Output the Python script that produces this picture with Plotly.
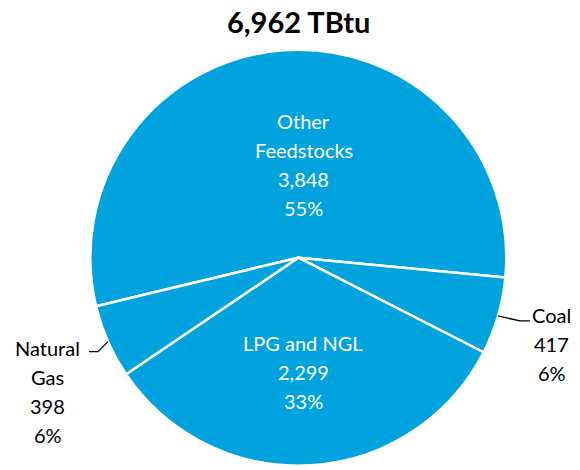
import math
import plotly.graph_objects as go

# ---- data ----
categories = ["Other Feedstocks", "Coal", "LPG and NGL", "Natural Gas"]
label_lines = [["Other", "Feedstocks"], ["Coal"], ["LPG and NGL"], ["Natural", "Gas"]]
values = [3848, 417, 2299, 398]
unit = "TBtu"

total = sum(values)
pcts = [round(v / total * 100) for v in values]

W, H = 580, 470
FONT = "Lato"
FS = 20
LINE = 29
BLUE = "#00A3DD"
rotation = 256.5

# pie geometry (pixels)
cx, cy, R = 298.3, 257.7, 208
dom_x = [(cx - R) / W, (cx + R) / W]
dom_y = [1 - (cy + R) / H, 1 - (cy - R) / H]

# label placement style: inside radius fraction + horizontal nudge, or outside leader
label_style = [("in", 0.45, 12), ("out", None, 0), ("in", 0.55, -2), ("out", None, 0)]

fig = go.Figure(go.Pie(
    labels=categories,
    values=values,
    textinfo="none",
    sort=False,
    direction="clockwise",
    rotation=rotation,
    marker=dict(colors=[BLUE] * len(values), line=dict(color="white", width=2.5)),
    domain=dict(x=dom_x, y=dom_y),
    showlegend=False,
    hoverinfo="label+value+percent",
))


def px(x):
    return x / W


def py(y):
    return 1 - y / H


shapes = []
annotations = []


def add_block(lines, x0, y0, color):
    # y0: center of first line (pixels)
    for k, t in enumerate(lines):
        annotations.append(dict(x=px(x0), y=py(y0 + k * LINE), xref="paper", yref="paper",
                                text=t, showarrow=False, xanchor="center", yanchor="middle",
                                font=dict(family=FONT, size=FS, color=color)))


angle = rotation
for i, v in enumerate(values):
    span = v / total * 360
    mid = angle + span / 2
    angle += span
    a = math.radians(mid)
    lines = label_lines[i] + [f"{v:,}", f"{pcts[i]}%"]
    kind, frac, dx = label_style[i]
    if kind == "in":
        bx, by = cx + frac * R * math.sin(a) + dx, cy - frac * R * math.cos(a)
        add_block(lines, bx, by - (len(lines) - 1) * LINE / 2, "white")
    else:
        ex, ey = cx + R * math.sin(a), cy - R * math.cos(a)
        if math.sin(a) > 0:
            kx, ky = ex + 22, ey + 5
            tx = kx + 10
            add_block(lines, tx + 22, ky - 6, "black")
        else:
            kx, ky = ex - 10, ey + 10
            tx = kx - 9
            add_block(lines, tx - 41, ky - 4, "black")
        shapes.append(dict(type="path", xref="paper", yref="paper",
                           path=f"M {px(ex)},{py(ey)} L {px(kx)},{py(ky)} L {px(tx)},{py(ky)}",
                           line=dict(color="black", width=1.3)))

annotations.append(dict(x=px(cx), y=py(22), xref="paper", yref="paper",
                        text=f"<b>{total:,} {unit}</b>", showarrow=False,
                        xanchor="center", yanchor="middle",
                        font=dict(family=FONT, size=29, color="black")))

fig.update_layout(
    width=W, height=H,
    margin=dict(l=0, r=0, t=0, b=0),
    paper_bgcolor="white", plot_bgcolor="white",
    shapes=shapes, annotations=annotations,
)
fig.write_html("out.html", config={"displayModeBar": False},
               post_script="document.body.style.margin='0';")
